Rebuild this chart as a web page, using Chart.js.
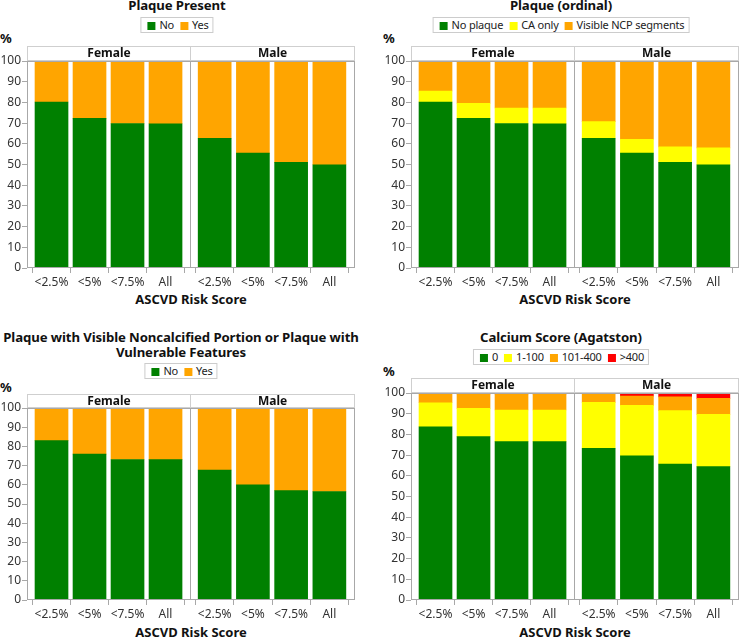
<!DOCTYPE html>
<html lang="en">
<head>
<meta charset="UTF-8" />
<title>Coronary plaque by ASCVD risk score</title>
<style>
  body { margin: 0; background: #fff; font-family: "Noto Sans", Arial, sans-serif; }
  #page { position: relative; width: 740px; height: 637px; overflow: hidden; }
  .txt { position: absolute; font-weight: bold; color: #111; white-space: nowrap; transform: translateX(-50%); text-align: center; }
  .title { font-size: 13.2px; letter-spacing: -0.1px; line-height: 15px; }
  .axtitle { font-size: 13px; line-height: 15px; }
  .pct { position: absolute; font-weight: bold; font-size: 13px; line-height: 15px; color: #111; }
  .legend { position: absolute; transform: translateX(-50%); border: 1px solid #ccc; height: 14px; line-height: 14px;
            font-size: 11px; letter-spacing: -0.2px; color: #222; white-space: nowrap; padding: 0 4px 0 0; }
  .legend .sw { display: inline-block; width: 8px; height: 8px; margin: 0 4px 0 6px; vertical-align: -0.5px; }
  canvas { position: absolute; }
</style>
<script src="https://cdn.jsdelivr.net/npm/chart.js"></script>
</head>
<body>
<div id="page"></div>
<script>
  // categories
  const riskLabels = ["<2.5%", "<5%", "<7.5%", "All"];
  const sexes = ["Female", "Male"];

  // Plaque Present
  const presentNoF = [80.2, 72.3, 69.8, 69.7];
  const presentYesF = [19.8, 27.7, 30.2, 30.3];
  const presentNoM = [62.7, 55.5, 51.0, 49.9];
  const presentYesM = [37.3, 44.5, 49.0, 50.1];

  // Plaque (ordinal)
  const ordNoneF = [80.2, 72.3, 69.8, 69.7];
  const ordCaF = [5.3, 7.3, 7.5, 7.6];
  const ordNcpF = [14.5, 20.4, 22.7, 22.7];
  const ordNoneM = [62.7, 55.5, 51.0, 49.9];
  const ordCaM = [8.0, 6.7, 7.5, 8.1];
  const ordNcpM = [29.3, 37.8, 41.5, 42.0];

  // Plaque with visible noncalcified portion or vulnerable features
  const vulnNoF = [83.0, 76.0, 73.2, 73.1];
  const vulnYesF = [17.0, 24.0, 26.8, 26.9];
  const vulnNoM = [67.7, 60.0, 57.0, 56.5];
  const vulnYesM = [32.3, 40.0, 43.0, 43.5];

  // Calcium score (Agatston)
  const cac0F = [83.7, 78.9, 76.5, 76.5];
  const cac1F = [11.6, 13.7, 15.3, 15.3];
  const cac101F = [4.7, 6.9, 7.8, 7.8];
  const cac400F = [0.0, 0.5, 0.4, 0.4];
  const cac0M = [73.3, 69.6, 65.7, 64.4];
  const cac1M = [22.2, 24.4, 25.8, 25.3];
  const cac101M = [4.5, 4.5, 6.6, 7.7];
  const cac400M = [0.0, 1.5, 1.9, 2.6];

  const GREEN = "#008000", YELLOW = "#ffff00", ORANGE = "#ffa500", RED = "#ff0000";

  const panels = [
    {
      title: ["Plaque Present"], center: 177, titleTop: -2, legendTop: 17, pctX: 0, pctTop: 31,
      left: 27, headTop: 46, top: 61, bottom: 268, axTitleTop: 292,
      keys: ["No", "Yes"], colors: [GREEN, ORANGE],
      female: [presentNoF, presentYesF], male: [presentNoM, presentYesM],
    },
    {
      title: ["Plaque (ordinal)"], center: 561, titleTop: -2, legendTop: 17, pctX: 383, pctTop: 31,
      left: 411, headTop: 46, top: 61, bottom: 268, axTitleTop: 292,
      keys: ["No plaque", "CA only", "Visible NCP segments"], colors: [GREEN, YELLOW, ORANGE],
      female: [ordNoneF, ordCaF, ordNcpF], male: [ordNoneM, ordCaM, ordNcpM],
    },
    {
      title: ["Plaque with Visible Noncalcified Portion or Plaque with", "Vulnerable Features"],
      center: 181, titleTop: 330, legendTop: 363, pctX: 0, pctTop: 380,
      left: 27, headTop: 394, top: 408, bottom: 600, axTitleTop: 625,
      keys: ["No", "Yes"], colors: [GREEN, ORANGE],
      female: [vulnNoF, vulnYesF], male: [vulnNoM, vulnYesM],
    },
    {
      title: ["Calcium Score (Agatston)"], center: 561, titleTop: 330, legendTop: 349, pctX: 383, pctTop: 364,
      left: 411, headTop: 378, top: 393, bottom: 600, axTitleTop: 625,
      keys: ["0", "1-100", "101-400", ">400"], colors: [GREEN, YELLOW, ORANGE, RED],
      female: [cac0F, cac1F, cac101F, cac400F], male: [cac0M, cac1M, cac101M, cac400M],
    },
  ];

  const AXIS_W = 27, FACET_W = 164, XAXIS_H = 26;
  const page = document.getElementById("page");

  // draws the header strip and the box round each facet
  const facetBox = {
    id: "facetBox",
    afterDraw(chart, args, opts) {
      const { ctx, chartArea: a } = chart;
      const h = opts.headH;
      ctx.save();
      ctx.lineWidth = 1;
      ctx.strokeStyle = "#cfcfcf";
      ctx.strokeRect(a.left + 0.5, a.top - h + 0.5, a.right - a.left - 1, h - 1);
      ctx.strokeStyle = "#a8a8a8";
      ctx.strokeRect(a.left + 0.5, a.top + 0.5, a.right - a.left - 1, a.bottom - a.top - 1);
      ctx.fillStyle = "#111";
      ctx.font = "bold 12px 'Noto Sans', Arial, sans-serif";
      ctx.textAlign = "center";
      ctx.textBaseline = "middle";
      ctx.fillText(opts.label, (a.left + a.right) / 2, a.top - h / 2 + 0.5);
      ctx.restore();
    },
  };

  function addText(cls, html, left, top) {
    const d = document.createElement("div");
    d.className = cls;
    d.innerHTML = html;
    d.style.left = left + "px";
    d.style.top = top + "px";
    page.appendChild(d);
    return d;
  }

  function facet(p, sex, series, withAxis) {
    const c = document.createElement("canvas");
    const w = withAxis ? AXIS_W + FACET_W : FACET_W + 1;
    const h = p.bottom - p.headTop + XAXIS_H;
    c.width = w;
    c.height = h;
    c.style.left = (withAxis ? p.left - AXIS_W : p.left + FACET_W - 1) + "px";
    c.style.top = p.headTop + "px";
    page.appendChild(c);

    new Chart(c.getContext("2d"), {
      type: "bar",
      data: {
        datasets: series.map((vals, k) => ({
          label: p.keys[k],
          data: vals.map((v, i) => ({ x: i, y: v })),
          backgroundColor: p.colors[k],
          borderWidth: 0,
          barThickness: 33,
        })),
      },
      options: {
        responsive: false,
        animation: false,
        layout: { padding: { top: p.top - p.headTop, right: 0, left: 0, bottom: 0 } },
        plugins: {
          legend: { display: false },
          tooltip: { enabled: false },
          facetBox: { label: sex, headH: p.top - p.headTop },
        },
        scales: {
          x: {
            type: "linear",
            stacked: true,
            offset: false,
            min: -0.645,
            max: 3.67,
            afterBuildTicks: (s) => { s.ticks = riskLabels.map((_, i) => ({ value: i })); },
            afterFit: (s) => { s.height = XAXIS_H; },
            ticks: {
              callback: (v) => riskLabels[v],
              color: "#333",
              font: { family: "'Noto Sans', Arial, sans-serif", size: 12 },
              padding: 2,
              maxRotation: 0,
              autoSkip: false,
            },
            grid: { display: true, drawOnChartArea: false, drawTicks: true, tickLength: 5, color: "#a8a8a8" },
            border: { display: false },
          },
          y: {
            display: withAxis,
            stacked: true,
            min: 0,
            max: 100,
            afterFit: (s) => { s.width = withAxis ? AXIS_W : 0; },
            ticks: {
              stepSize: 10,
              color: "#333",
              font: { family: "'Noto Sans', Arial, sans-serif", size: 12 },
              padding: 1,
            },
            grid: { display: true, drawOnChartArea: false, drawTicks: true, tickLength: 5, color: "#a8a8a8" },
            border: { display: false },
          },
        },
      },
      plugins: [facetBox],
    });
  }

  panels.forEach((p) => {
    addText("txt title", p.title.join("<br>"), p.center, p.titleTop);
    const items = p.keys.map((k, i) => `<span class="sw" style="background:${p.colors[i]}"></span>${k}`).join("");
    addText("legend", items, p.center, p.legendTop);
    addText("pct", "%", p.pctX, p.pctTop);
    addText("txt axtitle", "ASCVD Risk Score", p.left + FACET_W, p.axTitleTop);
    facet(p, sexes[0], p.female, true);
    facet(p, sexes[1], p.male, false);
  });
</script>
</body>
</html>
